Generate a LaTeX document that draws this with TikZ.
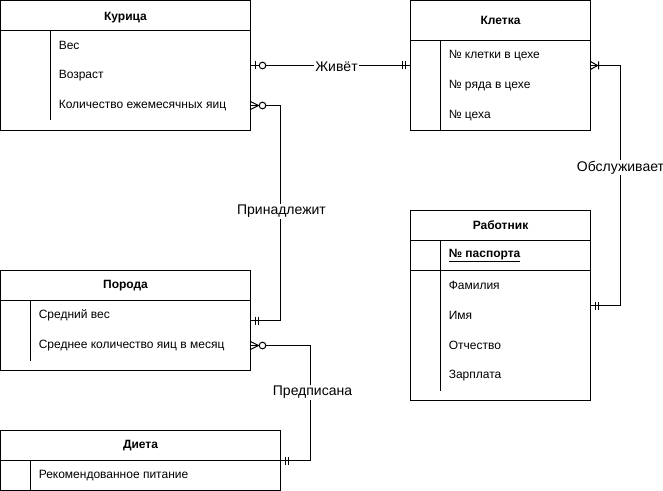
\documentclass[tikz,border=0pt]{standalone}
\usepackage{fontspec}
\setmainfont{Liberation Sans}
\usetikzlibrary{positioning}
\tikzset{
  tbl/.style={draw, rectangle, inner sep=0pt, line width=0.75pt},
  ttl/.style={font=\fontsize{9}{11}\selectfont\bfseries, inner sep=0pt},
  row/.style={font=\fontsize{9}{11}\selectfont, anchor=west, inner sep=0pt},
  lbl/.style={font=\fontsize{10.5}{12}\selectfont, fill=white, inner sep=1pt},
  conn/.style={line width=0.75pt},
  mone/.pic={\draw[line width=0.75pt] (5,-4)--(5,4) (8,-4)--(8,4);},
  zone/.pic={\draw[line width=0.75pt] (5,-4)--(5,4); \draw[line width=0.75pt, fill=white] (12,0) circle[radius=2.5pt];},
  zmany/.pic={\draw[line width=0.75pt] (0,-4)--(8,0)--(0,4); \draw[line width=0.75pt, fill=white] (12,0) circle[radius=2.5pt];},
  omany/.pic={\draw[line width=0.75pt] (0,-4)--(7,0)--(0,4) (8,-4)--(8,4);},
}
\begin{document}
\begin{tikzpicture}[x=0.75pt, y=-0.75pt]
\useasboundingbox (-0.5,-0.5) rectangle (662.5,490.5);
% Курица
\node[tbl, minimum width=187.5pt, minimum height=97.5pt] (kur) at (125,65) {};
\draw[line width=0.75pt] (0,30) -- (250,30) (50,30) -- (50,120);
\node[ttl] (kurT) at (125,17) {Курица};
\node[row] (kur1) at (58,45) {Вес};
\node[row] (kur2) at (58,75) {Возраст};
\node[row] (kur3) at (58,105) {Количество ежемесячных яиц};
% Клетка
\node[tbl, minimum width=135pt, minimum height=97.5pt] (kle) at (500,65) {};
\draw[line width=0.75pt] (410,40) -- (590,40) (440,40) -- (440,130);
\node[ttl] (kleT) at (500,20) {Клетка};
\node[row] (kle1) at (448,55) {№ клетки в цехе};
\node[row] (kle2) at (448,85) {№ ряда в цехе};
\node[row] (kle3) at (448,115) {№ цеха};
% Работник
\node[tbl, minimum width=135pt, minimum height=142.5pt] (rab) at (500,305) {};
\draw[line width=0.75pt] (410,240) -- (590,240) (410,270) -- (590,270) (440,240) -- (440,390);
\node[ttl] (rabT) at (500,225) {Работник};
\node[row] (rab0) at (448,255) {\underline{\textbf{№ паспорта}}};
\node[row] (rab1) at (448,285) {Фамилия};
\node[row] (rab2) at (448,315) {Имя};
\node[row] (rab3) at (448,345) {Отчество};
\node[row] (rab4) at (448,375) {Зарплата};
% Порода
\node[tbl, minimum width=187.5pt, minimum height=75pt] (por) at (125,320) {};
\draw[line width=0.75pt] (0,300) -- (250,300) (30,300) -- (30,360);
\node[ttl] (porT) at (125,285) {Порода};
\node[row] (por1) at (38,315) {Средний вес};
\node[row] (por2) at (38,345) {Среднее количество яиц в месяц};
% Диета
\node[tbl, minimum width=210pt, minimum height=45pt] (die) at (140,460) {};
\draw[line width=0.75pt] (0,460) -- (280,460) (30,460) -- (30,490);
\node[ttl] (dieT) at (140,445) {Диета};
\node[row] (die1) at (38,475) {Рекомендованное питание};
% connection points
\coordinate (kurA) at (250,65);
\coordinate (kleA) at (410,65);
\coordinate (kurB) at (250,105);
\coordinate (porA) at (250,320);
\coordinate (kleB) at (590,65);
\coordinate (rabA) at (590,305);
\coordinate (porB) at (250,345);
\coordinate (dieA) at (280,460);
% connectors
\draw[conn] (kurA) -- (kleA);
\node[lbl] (l1) at (336,66) {Живёт};
\draw[conn] (kurB) -- ++(30,0) |- (porA);
\node[lbl] (l2) at (281,211) {Принадлежит};
\draw[conn] (kleB) -- ++(30,0) |- (rabA);
\node[lbl] (l3) at (620,167) {Обслуживает};
\draw[conn] (porB) -- ++(60,0) |- (dieA);
\node[lbl] (l4) at (312,392) {Предписана};
% markers
\pic at (kurA) {zone};
\pic[rotate=180] at (kleA) {mone};
\pic at (kurB) {zmany};
\pic at (porA) {mone};
\pic at (kleB) {omany};
\pic at (rabA) {mone};
\pic at (porB) {zmany};
\pic at (dieA) {mone};
\end{tikzpicture}
\end{document}
